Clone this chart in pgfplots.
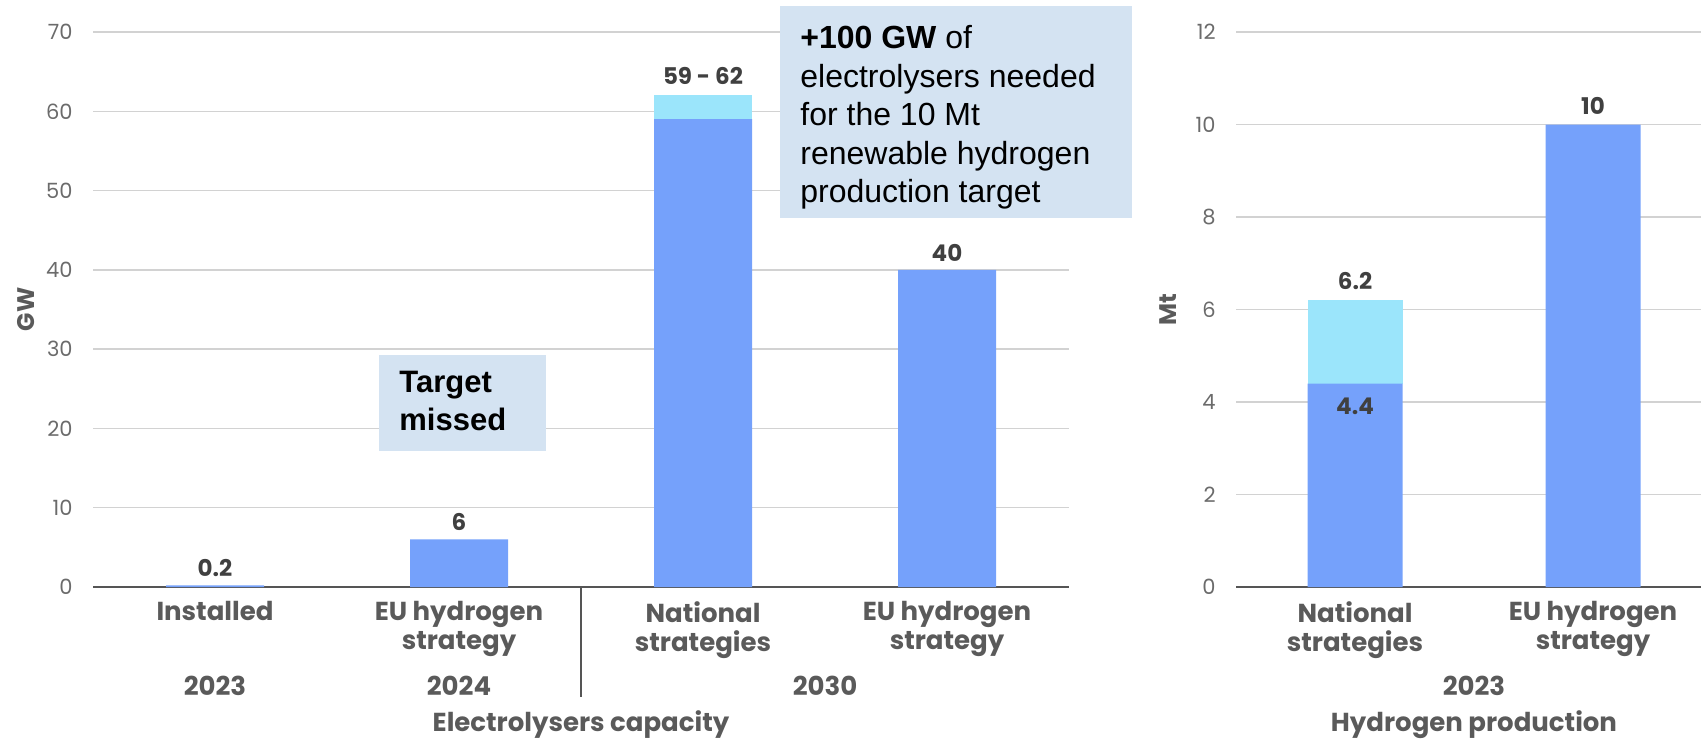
\documentclass[border=0pt]{standalone}
\usepackage{fontspec}
\setmainfont{Poppins}
\newfontfamily\arialf{Liberation Sans}
\usepackage{pgfplots}
\pgfplotsset{compat=1.18}
\definecolor{barC}{HTML}{75A1FB}
\definecolor{topC}{HTML}{9BE5FB}
\definecolor{boxC}{HTML}{D4E3F2}
\definecolor{gridC}{HTML}{D2D2D2}
\definecolor{tickC}{HTML}{6B6B6B}
\definecolor{catC}{HTML}{5A5A5A}
\definecolor{valC}{HTML}{404040}
\definecolor{baseC}{HTML}{555555}
\tikzset{
  val/.style={font=\bfseries\fontsize{11.5}{13}\selectfont, text=valC, inner sep=0pt},
  cat/.style={font=\bfseries\fontsize{13}{14.5}\selectfont, text=catC, inner sep=0pt, align=center},
}
\pgfplotsset{
  mybase/.style={
    scale only axis, anchor=south west, ybar stacked, ymin=0,
    xmin=-0.5, axis x line=bottom, axis y line=left,
    y axis line style={draw=none},
    x axis line style={draw=baseC, line width=0.8pt, -},
    major tick length=0pt,
    ymajorgrids, grid style={draw=gridC, line width=0.7pt},
    yticklabel style={font=\fontsize{10.5}{12}\selectfont, text=tickC, anchor=east, inner sep=0pt, xshift=-10pt},
    xticklabel style={font=\bfseries\fontsize{13}{14.5}\selectfont, text=catC, align=center, anchor=north, inner sep=0pt, yshift=-7pt},
    /pgf/number format/assume math mode=true,
    clip=false,
  }
}
\begin{document}
\begin{tikzpicture}
\path[use as bounding box] (0pt,0pt) rectangle (850.5pt,370.5pt);
% Left chart: electrolysers capacity
\begin{axis}[mybase, at={(46.5pt,77pt)}, width=488pt, height=277.5pt,
  xmax=3.5, ymax=70, ytick={0,10,...,70}, bar width=49pt,
  xtick={0,1,2,3},
  xticklabels={Installed,{EU hydrogen\\strategy},{National\\strategies},{EU hydrogen\\strategy}}]
\addplot[fill=barC, draw=none] coordinates {(0,0.2) (1,6) (2,59) (3,40)};
\addplot[fill=topC, draw=none] coordinates {(0,0) (1,0) (2,3) (3,0)};
\node[val, anchor=south, yshift=4pt] at (axis cs:0,0.2) {0.2};
\node[val, anchor=south, yshift=4pt] at (axis cs:1,6) {6};
\node[val, anchor=south, yshift=5pt] at (axis cs:2,62) {59 - 62};
\node[val, anchor=south, yshift=4pt] at (axis cs:3,40) {40};
\node[cat, yshift=-49.5pt] at (axis cs:0,0) {2023};
\node[cat, yshift=-49.5pt] at (axis cs:1,0) {2024};
\node[cat, yshift=-49.5pt] at (axis cs:2.5,0) {2030};
\node[cat, yshift=-69pt] at (axis cs:1.5,0) {Electrolysers capacity};
\draw[baseC, line width=0.8pt] (axis cs:1.5,0) -- ++(0pt,-55pt);
\end{axis}
% Right chart: hydrogen production
\begin{axis}[mybase, at={(618pt,77pt)}, width=232.5pt, height=277.5pt,
  xmax=1.4538, ymax=12, ytick={0,2,...,12}, bar width=47.5pt,
  xtick={0,1},
  xticklabels={{National\\strategies},{EU hydrogen\\strategy}}]
\addplot[fill=barC, draw=none] coordinates {(0,4.4) (1,10)};
\addplot[fill=topC, draw=none] coordinates {(0,1.8) (1,0)};
\node[val, anchor=south, yshift=5pt] at (axis cs:0,6.2) {6.2};
\node[val, anchor=south, yshift=5pt] at (axis cs:1,10) {10};
\coordinate (p44) at (axis cs:0,4.4);
\node[cat, yshift=-49.5pt] at (axis cs:0.5,0) {2023};
\node[cat, yshift=-69pt] at (axis cs:0.5,0) {Hydrogen production};
\end{axis}
\node[val, anchor=north, yshift=-7pt] at (p44) {4.4};
% axis titles
\node[rotate=90, font=\bfseries\fontsize{12}{14}\selectfont, text=catC] at (13pt,215.75pt) {GW};
\node[rotate=90, font=\bfseries\fontsize{12}{14}\selectfont, text=catC] at (584pt,215.75pt) {Mt};
% annotation boxes
\fill[boxC] (189.5pt,145pt) rectangle (273pt,193pt);
\node[anchor=north west, inner sep=0pt, align=left, font=\arialf\bfseries\fontsize{15.5}{19}\selectfont] at (199.5pt,185pt) {Target\\missed};
\fill[boxC] (390pt,261.5pt) rectangle (566pt,367.6pt);
\node[anchor=north west, inner sep=0pt, align=left, font=\arialf\fontsize{16}{19.3}\selectfont] at (400pt,358pt) {\textbf{+100 GW} of\\electrolysers needed\\for the 10 Mt\\renewable hydrogen\\production target};
\end{tikzpicture}
\end{document}
